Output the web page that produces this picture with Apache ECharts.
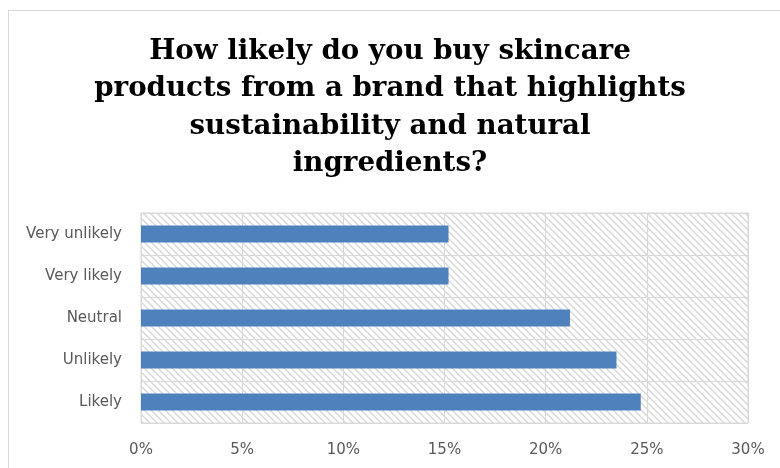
<!DOCTYPE html>
<html>
<head>
<meta charset="utf-8">
<script src="https://cdn.jsdelivr.net/npm/echarts@6/dist/echarts.min.js"></script>
<style>
  html, body { margin: 0; padding: 0; background: #fff; }
  #frame { position: absolute; left: 8px; top: 10px; width: 780px; height: 468px; border: 1px solid #d9d9d9; box-sizing: border-box; }
  #chart { width: 780px; height: 468px; position: absolute; left: 0; top: 0; }
</style>
</head>
<body>
<div id="frame"></div>
<div id="chart"></div>
<script>
// Survey answers, listed bottom to top as drawn on the category axis
const categories = ['Likely', 'Unlikely', 'Neutral', 'Very likely', 'Very unlikely'];
const shares = [24.7, 23.5, 21.2, 15.2, 15.2];
const xTicks = [0, 5, 10, 15, 20, 25, 30];

const titleText = 'How likely do you buy skincare\nproducts from a brand that highlights\nsustainability and natural\ningredients?';

// Diagonal hatch used as the plot-area fill
function hatchPattern() {
  const size = 7;
  const c = document.createElement('canvas');
  c.width = size; c.height = size;
  const g = c.getContext('2d');
  g.fillStyle = '#ffffff';
  g.fillRect(0, 0, size, size);
  g.strokeStyle = '#d9d9d9';
  g.lineWidth = 1.5;
  g.beginPath();
  g.moveTo(-1, -1); g.lineTo(size + 1, size + 1);
  g.moveTo(-1, size - 1); g.lineTo(1, size + 1);
  g.moveTo(size - 1, -1); g.lineTo(size + 1, 1);
  g.stroke();
  return { image: c, repeat: 'repeat' };
}

const labelFont = '"DejaVu Sans", sans-serif';

const chart = echarts.init(document.getElementById('chart'), null, { renderer: 'canvas' });
chart.setOption({
  animation: false,
  title: {
    text: titleText,
    left: 'center',
    top: 28,
    textStyle: {
      fontFamily: '"DejaVu Serif", serif',
      fontWeight: 'bold',
      fontSize: 27.7,
      lineHeight: 37.5,
      color: '#000000'
    }
  },
  grid: {
    left: 141, right: 32, top: 213, bottom: 45,
    show: true,
    backgroundColor: hatchPattern(),
    borderColor: '#d9d9d9',
    borderWidth: 1
  },
  xAxis: {
    type: 'value',
    min: xTicks[0],
    max: xTicks[xTicks.length - 1],
    interval: xTicks[1] - xTicks[0],
    axisLine: { show: false },
    axisTick: { show: false },
    splitLine: { show: true, lineStyle: { color: '#d9d9d9', width: 1 } },
    axisLabel: {
      formatter: v => v + '%',
      margin: 20,
      color: '#595959',
      fontFamily: labelFont,
      fontSize: 15
    }
  },
  yAxis: {
    type: 'category',
    data: categories,
    axisLine: { show: false },
    axisTick: { show: false },
    splitLine: { show: true, lineStyle: { color: '#d9d9d9', width: 1 } },
    axisLabel: {
      margin: 19,
      color: '#595959',
      fontFamily: labelFont,
      fontSize: 15
    }
  },
  series: [{
    type: 'bar',
    data: shares,
    barCategoryGap: '60%',
    itemStyle: { color: '#4f81bd' }
  }]
});
</script>
</body>
</html>
